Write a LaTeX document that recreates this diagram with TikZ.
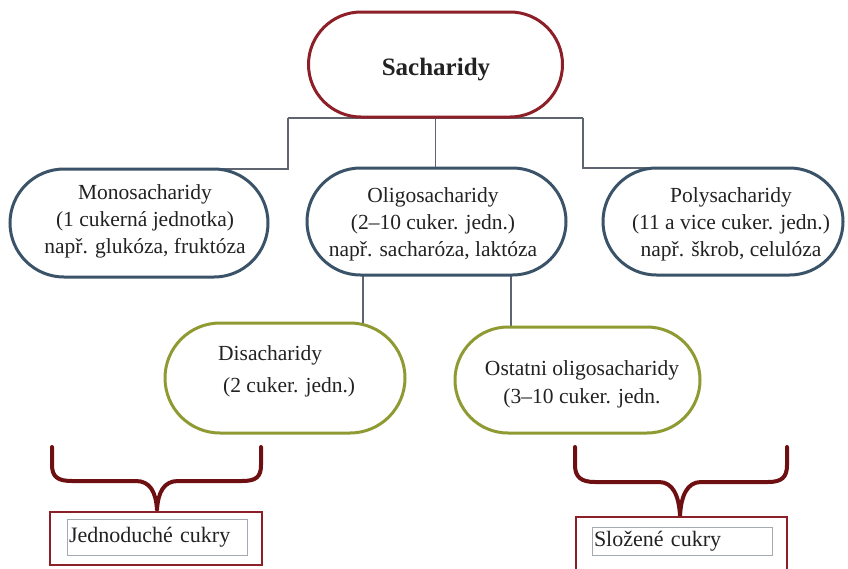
\documentclass[tikz,border=0pt]{standalone}
\usepackage{fontspec}
\setmainfont{Liberation Serif}
\usetikzlibrary{shapes.misc}
\pgfdeclarelayer{bg}
\pgfsetlayers{bg,main}
\definecolor{sred}{HTML}{8C1F28}
\definecolor{sblue}{HTML}{3A5368}
\definecolor{solive}{HTML}{8F9B32}
\definecolor{sgray}{HTML}{5E6470}
\definecolor{sbrace}{HTML}{6E0F12}
\definecolor{sinner}{HTML}{A3AAB2}
\definecolor{stext}{HTML}{222222}
\tikzset{
  pill/.style={rounded rectangle, fill=white, inner sep=0pt, outer sep=0pt, line width=3pt},
  toppill/.style={pill, draw=sred},
  bluepill/.style={pill, draw=sblue},
  olivepill/.style={pill, draw=solive},
  txt/.style={align=center, inner sep=0pt, text=stext, font=\fontsize{21.5}{27}\selectfont},
  conn/.style={draw=sgray, line width=1.5pt},
  bracepath/.style={draw=sbrace, line width=4pt, line join=round, line cap=round},
  outerbox/.style={draw=sred, line width=1.5pt, fill=white, inner sep=0pt},
  innerbox/.style={draw=sinner, line width=1pt, inner sep=2pt, align=left,
    text=stext, font=\fontsize{22}{26}\selectfont}
}
\begin{document}
\begin{tikzpicture}[x=1pt,y=-1pt]
\useasboundingbox (0,0) rectangle (848,568);

% shapes
\node[toppill, minimum width=254pt, minimum height=105pt] (sach) at (435.5,64.5) {};
\node[bluepill, minimum width=258pt, minimum height=108pt] (mono) at (139,223) {};
\node[bluepill, minimum width=259pt, minimum height=107pt] (olig) at (436.5,221.5) {};
\node[bluepill, minimum width=240pt, minimum height=107pt] (poly) at (723,221.5) {};
\node[olivepill, minimum width=240pt, minimum height=110pt] (disa) at (285,378) {};
\node[olivepill, minimum width=245pt, minimum height=106pt] (ost) at (577.5,380) {};

% texts
\node[txt, font=\fontsize{25}{30}\selectfont\bfseries] (sachT) at (436,70) {Sacharidy};
\node[txt] (monoT) at (145,221) {Monosacharidy\\(1 cukerná jednotka)\\např. glukóza, fruktóza};
\node[txt] (oligT) at (433,224) {Oligosacharidy\\(2–10 cuker. jedn.)\\např. sacharóza, laktóza};
\node[txt] (polyT) at (731,224) {Polysacharidy\\(11 a vice cuker. jedn.)\\např. škrob, celulóza};
\node[txt, align=left, anchor=west, font=\fontsize{21.5}{32}\selectfont] (disaT) at (218,371)
  {Disacharidy\\\hspace{5pt}(2 cuker. jedn.)};
\node[txt, font=\fontsize{21.5}{28}\selectfont] (ostT) at (582,384)
  {Ostatni oligosacharidy\\(3–10 cuker. jedn.};

\coordinate (barL) at (288,118);
\coordinate (barR) at (583,118);
\coordinate (o1) at (363,0);
\coordinate (o2) at (511,0);

\begin{pgfonlayer}{bg}
  \fill[white] (0,0) rectangle (848,568);
  \draw[conn] (barL) -- (barR);
  \draw[conn] (sach.south) -- (sach.south |- olig.north);
  \draw[conn] (barL) |- (mono.north);
  \draw[conn] (barR) |- (poly.north);
  \draw[conn] (olig.center -| o1) -- (disa.center -| o1);
  \draw[conn] (olig.center -| o2) -- (ost.center -| o2);
\end{pgfonlayer}

% braces
\draw[bracepath] (52,447) -- (52,465) .. controls (52,477) and (58,481) .. (72,481)
  -- (136,481) .. controls (150,481) and (156,492) .. (157,510)
  .. controls (158,492) and (164,481) .. (178,481) -- (242,481)
  .. controls (256,481) and (261,477) .. (261,465) -- (261,447);
\draw[bracepath] (575,447) -- (575,465) .. controls (575,477) and (581,482) .. (595,482)
  -- (659,482) .. controls (673,482) and (679,496) .. (680,516)
  .. controls (681,496) and (687,482) .. (701,482) -- (768,482)
  .. controls (782,482) and (787,477) .. (787,465) -- (787,447);

% boxes
\node[outerbox, minimum width=212pt, minimum height=53pt] (jedO) at (156,538.5) {};
\node[innerbox, text width=176pt, minimum height=36pt] (jedI) at (157,537) {Jednoduché cukry};
\node[outerbox, minimum width=211pt, minimum height=56pt] (sloO) at (681.5,545) {};
\node[innerbox, text width=176pt, minimum height=28pt] (sloI) at (682,541) {Složené cukry};
\end{tikzpicture}
\end{document}
